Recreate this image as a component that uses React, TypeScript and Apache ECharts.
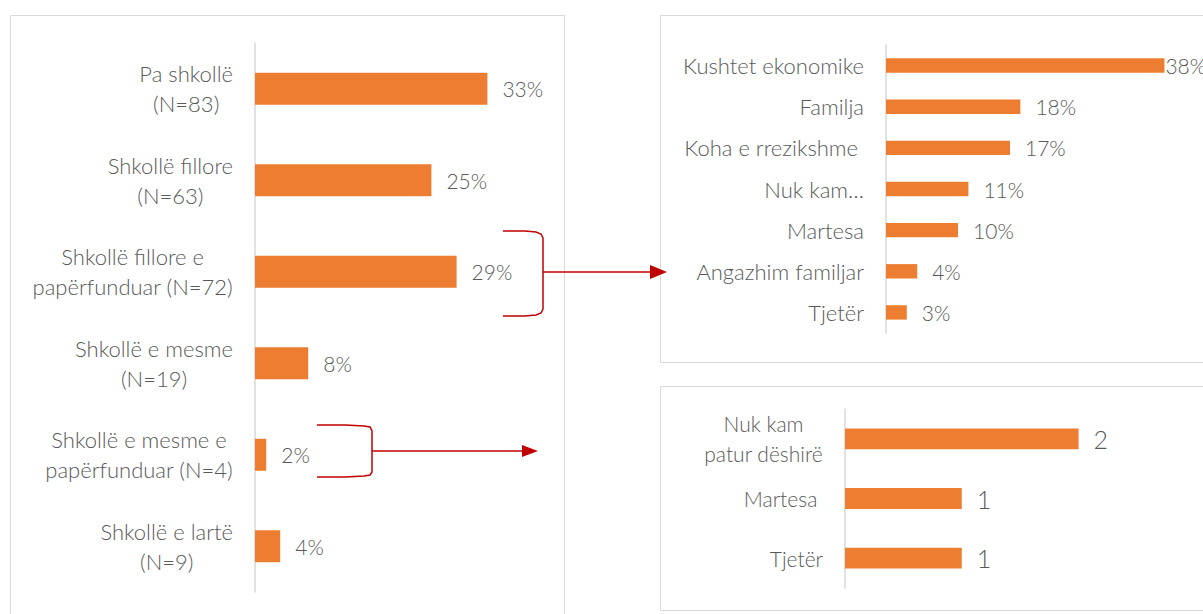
import React, { useEffect, useRef } from "react";
import * as echarts from "echarts";

const eduCategories = [
  "Pa shkollë\n(N=83)",
  "Shkollë fillore\n(N=63)",
  "Shkollë fillore e\npapërfunduar (N=72)",
  "Shkollë e mesme\n(N=19)",
  "Shkollë e mesme e\npapërfunduar (N=4)",
  "Shkollë e lartë\n(N=9)",
];
const eduValues = [33.2, 25.2, 28.8, 7.6, 1.6, 3.6];

const reasonCategories = [
  "Kushtet ekonomike",
  "Familja",
  "Koha e rrezikshme ",
  "Nuk kam…",
  "Martesa",
  "Angazhim familjar",
  "Tjetër",
];
const reasonValues = [37.5, 18.1, 16.7, 11.1, 9.7, 4.2, 2.8];

const secCategories = ["Nuk kam\npatur dëshirë", "Martesa ", "Tjetër"];
const secValues = [2, 1, 1];

const FONT = "Lato";
const WEIGHT = 300;
const TEXT = "#595959";
const BAR = "#ED7D31";
const GRID_LINE = "#D9D9D9";
const RED = "#C00000";

function centered(size: number, lh: number) {
  return {
    color: TEXT,
    fontFamily: FONT,
    fontWeight: WEIGHT,
    fontSize: size,
    lineHeight: lh,
    margin: 22,
    formatter: (v: string) =>
      v
        .split("\n")
        .map((l) => `{c|${l}}`)
        .join("\n"),
    rich: {
      c: { align: "center", fontSize: size, lineHeight: lh, fontFamily: FONT, fontWeight: WEIGHT, color: TEXT },
    },
  };
}

function catAxis(idx: number, data: string[], size: number, lh: number) {
  return {
    type: "category",
    gridIndex: idx,
    data,
    inverse: true,
    axisTick: { show: false },
    axisLine: { show: true, lineStyle: { color: GRID_LINE, width: 1.5 } },
    axisLabel: centered(size, lh),
    splitLine: { show: false },
  };
}

function valAxis(idx: number, max: number) {
  return {
    type: "value",
    gridIndex: idx,
    min: 0,
    max,
    show: false,
    splitLine: { show: false },
  };
}

function barSeries(idx: number, data: any[], fmt: (v: number) => string, size: number) {
  return {
    type: "bar",
    xAxisIndex: idx,
    yAxisIndex: idx,
    data,
    barWidth: "35%",
    itemStyle: { color: BAR },
    label: {
      show: true,
      position: "right",
      distance: 15,
      color: TEXT,
      fontFamily: FONT,
      fontWeight: WEIGHT,
      fontSize: size,
      formatter: (p: any) => fmt(p.value),
    },
  };
}

export default function App() {
  const ref = useRef<HTMLDivElement>(null);
  useEffect(() => {
    const chart = echarts.init(ref.current!, null, { renderer: "svg" });
    const pct = (v: number) => Math.round(v) + "%";
    const reasonData = reasonValues.map((v, i) =>
      i === 0 ? { value: v, label: { distance: 1 } } : v
    );
    chart.setOption({
      animation: false,
      grid: [
        { left: 255, top: 43, width: 280, height: 549 },
        { left: 886, top: 45, width: 297, height: 288 },
        { left: 845, top: 409, width: 292, height: 179 },
      ],
      xAxis: [valAxis(0, 40), valAxis(1, 40), valAxis(2, 2.5)],
      yAxis: [
        catAxis(0, eduCategories, 22, 30),
        catAxis(1, reasonCategories, 22, 26),
        catAxis(2, secCategories, 21, 30),
      ],
      series: [
        barSeries(0, eduValues, pct, 21),
        barSeries(1, reasonData, pct, 21),
        barSeries(2, secValues, (v) => String(v), 25),
      ],
      graphic: [
        { type: "rect", shape: { x: 10.5, y: 15.5, width: 554, height: 640 }, style: { fill: "none", stroke: GRID_LINE, lineWidth: 1 }, z: -1 },
        { type: "rect", shape: { x: 660.5, y: 15.5, width: 600, height: 347 }, style: { fill: "none", stroke: GRID_LINE, lineWidth: 1 }, z: -1 },
        { type: "rect", shape: { x: 660.5, y: 386.5, width: 600, height: 224 }, style: { fill: "none", stroke: GRID_LINE, lineWidth: 1 }, z: -1 },
        {
          type: "polyline",
          shape: {
            points: [[503, 231], [525, 231], [536, 232], [541, 234], [543, 238], [543, 309], [541, 313], [536, 315], [525, 316], [503, 316]],
          },
          style: { fill: "none", stroke: RED, lineWidth: 1.5 },
        },
        { type: "line", shape: { x1: 543, y1: 272, x2: 652, y2: 272 }, style: { stroke: RED, lineWidth: 1.5 } },
        { type: "polygon", shape: { points: [[650, 265], [667, 272], [650, 279]] }, style: { fill: RED } },
        {
          type: "polyline",
          shape: {
            points: [[317, 425], [345, 425], [364, 426], [370, 427], [372, 431], [372, 472], [370, 475], [364, 476], [345, 477], [317, 477]],
          },
          style: { fill: "none", stroke: RED, lineWidth: 1.5 },
        },
        { type: "line", shape: { x1: 372, y1: 451, x2: 524, y2: 451 }, style: { stroke: RED, lineWidth: 1.5 } },
        { type: "polygon", shape: { points: [[522, 445], [538, 451], [522, 457]] }, style: { fill: RED } },
      ],
    });
    return () => chart.dispose();
  }, []);
  return (
    <div
      ref={ref}
      style={{ position: "absolute", left: 0, top: 0, width: 1203, height: 614, background: "#fff" }}
    />
  );
}
